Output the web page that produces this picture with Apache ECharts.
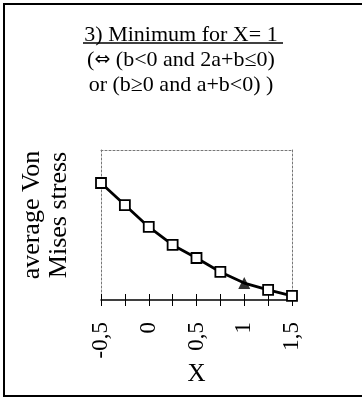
<!DOCTYPE html>
<html>
<head>
<meta charset="utf-8">
<script src="https://cdn.jsdelivr.net/npm/echarts@6/dist/echarts.min.js"></script>
<style>
  html, body { margin: 0; padding: 0; background: #fff; }
  #chart { width: 362px; height: 401px; }
</style>
</head>
<body>
<div id="chart"></div>
<script>
// values (stress in arbitrary units)
const xValues = [-0.5, -0.25, 0, 0.25, 0.5, 0.75, 1, 1.25, 1.5]
const stressValues = [0.78, 0.633, 0.487, 0.367, 0.28, 0.187, 0.113, 0.067, 0.027]
const minimumX = [1]
const titleLines = ['3) Minimum for X= 1', '({arr|\u21D4} (b<0 and 2a+b\u22640)', 'or (b\u22650 and a+b<0) )']
const yName = 'average Von\nMises stress'
const xName = 'X'

const FONT = '"Liberation Serif", "Times New Roman", serif'
const X_MIN = -0.5
const X_MAX = 1.5

const chart = echarts.init(document.getElementById('chart'))

const lineData = xValues.map((x, i) => {
  if (minimumX.includes(x)) return { value: [x, stressValues[i]], symbol: 'none' }
  return [x, stressValues[i]]
})
const minData = xValues
  .map((x, i) => [x, stressValues[i]])
  .filter((p) => minimumX.includes(p[0]))

const frameLine = { show: true, onZero: false, lineStyle: { color: '#777', width: 1, type: [2, 2] } }
const hidden = { axisTick: { show: false }, axisLabel: { show: false }, splitLine: { show: false } }

const option = {
  backgroundColor: '#fff',
  animation: false,
  title: {
    left: 'center',
    top: 18,
    text: titleLines[0],
    subtext: titleLines[1] + '\n' + titleLines[2],
    itemGap: 0,
    textStyle: { fontFamily: FONT, fontSize: 22, fontWeight: 'normal', color: '#000', lineHeight: 25 },
    subtextStyle: {
      fontFamily: FONT, fontSize: 22, color: '#000', lineHeight: 25,
      rich: { arr: { fontFamily: 'DejaVu Sans', fontSize: 19, color: '#000', lineHeight: 25 } }
    }
  },
  graphic: [
    { type: 'rect', shape: { x: 4, y: 4, width: 400, height: 392 }, style: { fill: 'none', stroke: '#000', lineWidth: 2 } },
    { type: 'line', shape: { x1: 83, y1: 43, x2: 283, y2: 43 }, style: { stroke: '#000', lineWidth: 1.5 } }
  ],
  grid: { left: 101, right: 70, top: 150, bottom: 101 },
  xAxis: [
    {
      type: 'value', position: 'bottom', min: X_MIN, max: X_MAX, interval: 0.25,
      axisLine: { show: true, onZero: false, lineStyle: { color: '#000', width: 1.5 } },
      axisTick: { show: true, length: 6, lineStyle: { color: '#000', width: 1 } },
      splitLine: { show: false },
      axisLabel: {
        rotate: 90, margin: 22, fontFamily: FONT, fontSize: 23, color: '#000',
        formatter: (v) => (Math.abs(v * 2 - Math.round(v * 2)) < 1e-9 ? String(v).replace('.', ',') : '')
      },
      name: xName, nameLocation: 'middle', nameGap: 55,
      nameTextStyle: { fontFamily: FONT, fontSize: 25, color: '#000' }
    },
    {
      type: 'value', position: 'bottom', min: X_MIN, max: X_MAX, interval: 0.25,
      axisLine: { show: false, onZero: false },
      axisTick: { show: true, inside: true, length: 6, lineStyle: { color: '#000', width: 1 } },
      axisLabel: { show: false },
      splitLine: { show: false }
    },
    Object.assign({ type: 'value', position: 'top', min: X_MIN, max: X_MAX, axisLine: frameLine }, hidden)
  ],
  yAxis: [
    Object.assign({
      type: 'value', position: 'left', min: 0, max: 1, axisLine: frameLine,
      name: yName, nameLocation: 'middle', nameRotate: 90, nameGap: 28,
      nameTextStyle: { fontFamily: FONT, fontSize: 26, color: '#000', lineHeight: 27, align: 'center', padding: [0, 0, 0, 20] }
    }, hidden),
    Object.assign({ type: 'value', position: 'right', min: 0, max: 1, axisLine: frameLine }, hidden)
  ],
  series: [
    {
      type: 'line', xAxisIndex: 0, yAxisIndex: 0, data: lineData,
      symbol: 'rect', symbolSize: 10, showAllSymbol: true,
      lineStyle: { color: '#000', width: 2.8 },
      itemStyle: { color: '#fff', borderColor: '#000', borderWidth: 1.8 },
      z: 3
    },
    {
      type: 'scatter', xAxisIndex: 0, yAxisIndex: 0, data: minData,
      symbol: 'triangle', symbolSize: 12,
      itemStyle: { color: '#000' },
      z: 4
    }
  ]
}

chart.setOption(option)
</script>
</body>
</html>
